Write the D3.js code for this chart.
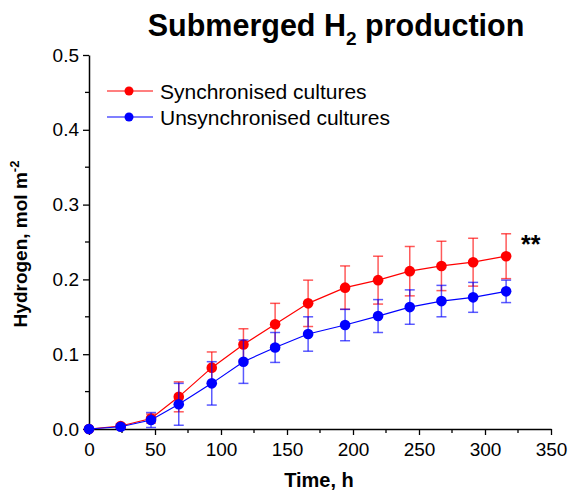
<!DOCTYPE html>
<html><head><meta charset="utf-8">
<script src="https://cdn.jsdelivr.net/npm/d3@7"></script>
<style>body{margin:0;background:#fff}svg{display:block;font-family:"Liberation Sans",Arial,sans-serif}</style>
</head><body>
<script>
const times = [0, 24, 47, 68, 93, 117, 141, 166, 194, 219, 243, 267, 291, 316];
const syncVals = [0.000, 0.004, 0.014, 0.043, 0.082, 0.113, 0.140, 0.168, 0.189, 0.199, 0.211, 0.218, 0.223, 0.231];
const syncErr  = [0.000, 0.003, 0.006, 0.020, 0.021, 0.021, 0.028, 0.031, 0.029, 0.032, 0.033, 0.033, 0.032, 0.030];
const unsyncVals = [0.000, 0.003, 0.012, 0.033, 0.061, 0.090, 0.109, 0.127, 0.139, 0.151, 0.163, 0.171, 0.176, 0.184];
const unsyncErr  = [0.000, 0.002, 0.010, 0.028, 0.029, 0.029, 0.020, 0.023, 0.021, 0.022, 0.023, 0.021, 0.020, 0.015];
const xTicks = [0, 50, 100, 150, 200, 250, 300, 350];
const yTicks = [0.0, 0.1, 0.2, 0.3, 0.4, 0.5];
const seriesNames = ["Synchronised cultures", "Unsynchronised cultures"];
const seriesColors = ["#ff0000", "#0000ff"];

const W = 569, H = 495;
const svg = d3.select("body").append("svg").attr("width", W).attr("height", H);
const x = d3.scaleLinear().domain([0, 350]).range([89, 551]);
const y = d3.scaleLinear().domain([0, 0.5]).range([429, 55]);

// axes
const xAxis = d3.axisBottom(x).tickValues(xTicks).tickFormat(d3.format("d")).tickSize(6).tickSizeOuter(0);
const gx = svg.append("g").attr("transform", "translate(0,429)").call(xAxis);
const yAxis = d3.axisLeft(y).tickValues(yTicks).tickFormat(d3.format(".1f")).tickSize(6).tickSizeOuter(0);
const gy = svg.append("g").attr("transform", "translate(89,0)").call(yAxis);
[gx, gy].forEach(g => {
  g.select(".domain").attr("stroke", "#000").attr("stroke-width", 1.5);
  g.selectAll(".tick line").attr("stroke", "#000").attr("stroke-width", 1.3);
  g.selectAll(".tick text").attr("font-size", 19).attr("fill", "#000").attr("font-family", "Liberation Sans, Arial, sans-serif");
});
gx.selectAll(".tick text").attr("dy", "0.71em").attr("y", 14);
gy.selectAll(".tick text").attr("x", -10);
// minor ticks
const xMinor = d3.range(25, 350, 50);
svg.append("g").selectAll("line").data(xMinor).join("line")
  .attr("x1", d => x(d)).attr("x2", d => x(d)).attr("y1", 429).attr("y2", 433)
  .attr("stroke", "#000").attr("stroke-width", 1.3);
const yMinor = [0.05, 0.15, 0.25, 0.35, 0.45];
svg.append("g").selectAll("line").data(yMinor).join("line")
  .attr("x1", 85).attr("x2", 89).attr("y1", d => y(d)).attr("y2", d => y(d))
  .attr("stroke", "#000").attr("stroke-width", 1.3);

const series = [
  {vals: syncVals, err: syncErr, color: seriesColors[0]},
  {vals: unsyncVals, err: unsyncErr, color: seriesColors[1]}
];
const line = d3.line().x(d => x(d[0])).y(d => y(d[1]));
series.forEach(s => {
  const pts = times.map((t, i) => [t, s.vals[i], s.err[i]]);
  const g = svg.append("g");
  const eb = g.append("g").attr("stroke", s.color).attr("stroke-opacity", 0.65).attr("stroke-width", 1.5);
  const withErr = pts.filter(p => p[2] > 0);
  eb.selectAll(".v").data(withErr).join("line")
    .attr("x1", p => x(p[0])).attr("x2", p => x(p[0]))
    .attr("y1", p => y(p[1] + p[2])).attr("y2", p => y(p[1] - p[2]));
  eb.selectAll(".t").data(withErr).join("line")
    .attr("x1", p => x(p[0]) - 5).attr("x2", p => x(p[0]) + 5)
    .attr("y1", p => y(p[1] + p[2])).attr("y2", p => y(p[1] + p[2]));
  eb.selectAll(".b").data(withErr).join("line")
    .attr("x1", p => x(p[0]) - 5).attr("x2", p => x(p[0]) + 5)
    .attr("y1", p => y(p[1] - p[2])).attr("y2", p => y(p[1] - p[2]));
  g.append("path").datum(pts).attr("d", line).attr("fill", "none")
    .attr("stroke", s.color).attr("stroke-width", 1.2);
  g.selectAll("circle").data(pts).join("circle")
    .attr("cx", p => x(p[0])).attr("cy", p => y(p[1])).attr("r", 5.3)
    .attr("fill", s.color);
});

// legend
seriesNames.forEach((n, i) => {
  const ly = 91 + i * 26;
  svg.append("line").attr("x1", 107).attr("x2", 153).attr("y1", ly).attr("y2", ly)
    .attr("stroke", seriesColors[i]).attr("stroke-width", 1.2);
  svg.append("circle").attr("cx", 129).attr("cy", ly).attr("r", 4.5).attr("fill", seriesColors[i]);
  svg.append("text").attr("x", 160).attr("y", ly + 7.5).attr("font-size", 21).attr("fill", "#000").text(n);
});

// title
const title = svg.append("text").attr("x", 336).attr("y", 36).attr("text-anchor", "middle")
  .attr("font-size", 30.5).attr("font-weight", "bold").attr("fill", "#000");
title.append("tspan").text("Submerged H");
title.append("tspan").attr("font-size", 19).attr("dy", 9).text("2");
title.append("tspan").attr("dy", -9).text(" production");

// axis titles
svg.append("text").attr("x", 319).attr("y", 487).attr("text-anchor", "middle")
  .attr("font-size", 20).attr("font-weight", "bold").attr("fill", "#000").text("Time, h");
const yl = svg.append("text").attr("transform", "translate(27,244) rotate(-90)").attr("text-anchor", "middle")
  .attr("font-size", 19).attr("font-weight", "bold").attr("fill", "#000");
yl.append("tspan").text("Hydrogen, mol m");
yl.append("tspan").attr("font-size", 13).attr("dy", -8).text("-2");

// significance
svg.append("text").attr("x", 521).attr("y", 253).attr("font-size", 25).attr("font-weight", "bold")
  .attr("fill", "#000").text("**");
</script>
</body></html>
